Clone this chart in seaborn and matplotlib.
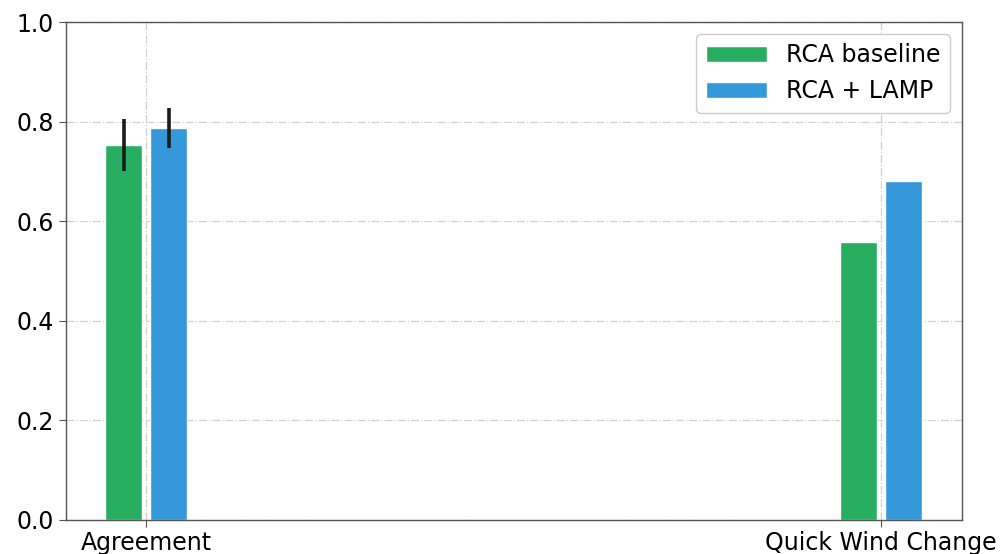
import matplotlib
matplotlib.use("Agg")
import matplotlib.pyplot as plt
import seaborn as sns
import pandas as pd

# Scores per task and method
tasks = ["Agreement", "Quick Wind Change"]
methods = ["RCA baseline", "RCA + LAMP"]
baseline_scores = [0.753, 0.558]
lamp_scores = [0.787, 0.680]
baseline_err = [0.053, 0.0]
lamp_err = [0.040, 0.0]

colors = ["#27ae60", "#3498db"]

df = pd.DataFrame({
    "task": tasks * 2,
    "method": [methods[0]] * len(tasks) + [methods[1]] * len(tasks),
    "score": baseline_scores + lamp_scores,
})

sns.set_style("white")
plt.rcParams["font.family"] = ["DejaVu Sans"]
plt.rcParams["text.color"] = "black"
plt.rcParams["xtick.color"] = "black"
plt.rcParams["ytick.color"] = "black"

fig, ax = plt.subplots(figsize=(10.08, 5.54), dpi=100)
sns.barplot(data=df, x="task", y="score", hue="method", palette=colors,
            saturation=1, width=0.1225, gap=0.17, errorbar=None,
            edgecolor="white", linewidth=1, ax=ax, zorder=2)

# error bars at the centre of each drawn bar
for container, errs in zip(ax.containers, [baseline_err, lamp_err]):
    for patch, e in zip(container.patches, errs):
        if e > 0:
            cx = patch.get_x() + patch.get_width() / 2
            ax.errorbar(cx, patch.get_height(), yerr=e, color="#1a1a1a",
                        lw=2.6, capsize=0, zorder=3)

ax.set_xlim(-0.11, 1.11)
ax.set_ylim(0, 1.0)
ax.set_xlabel("")
ax.set_ylabel("")
ax.grid(True, linestyle="-.", color="#d0d0d0", lw=0.9)
ax.set_axisbelow(True)
for s in ax.spines.values():
    s.set_color("#555555")
    s.set_linewidth(1)
ax.tick_params(axis="both", labelsize=17, length=5, direction="out",
               left=True, bottom=True, color="#555555")
ax.legend(loc="upper right", fontsize=17, handlelength=2.6, framealpha=1,
          edgecolor="#cccccc")

fig.subplots_adjust(left=0.065, right=0.954, top=0.96, bottom=0.062)
fig.savefig("out.png", dpi=100)
